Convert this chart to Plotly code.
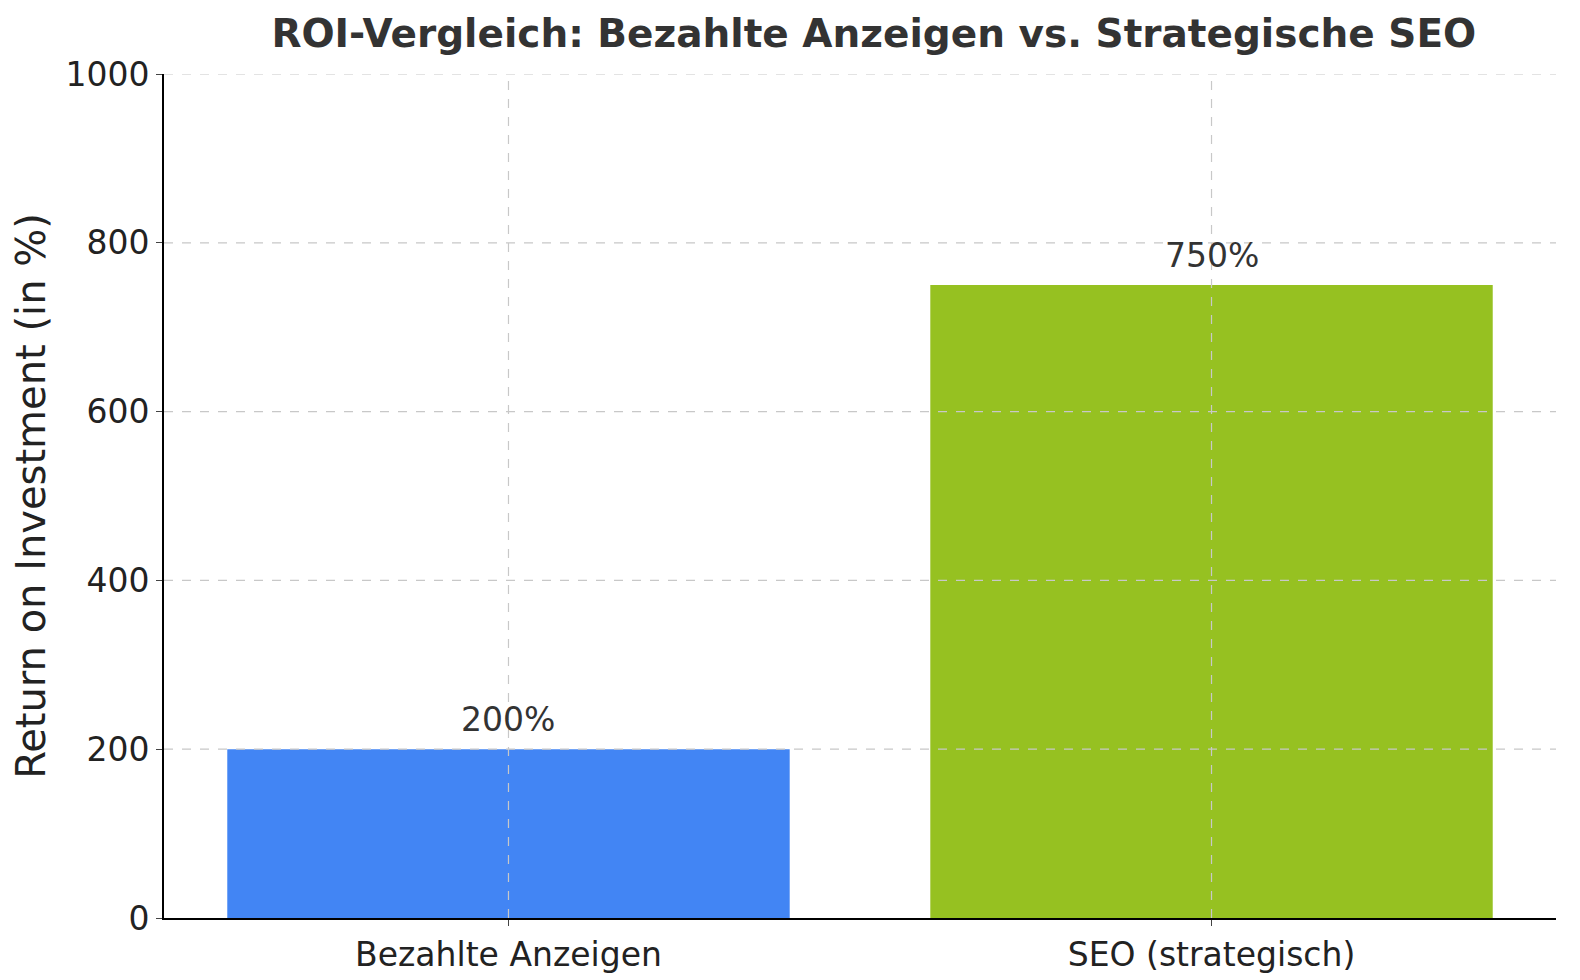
import plotly.graph_objects as go

categories = ["Bezahlte Anzeigen", "SEO (strategisch)"]
roi_values = [200, 750]
labels = ["200%", "750%"]
colors = ["#4285F4", "#96C121"]
y_ticks = [0, 200, 400, 600, 800, 1000]

fig = go.Figure(go.Bar(x=[0, 1], y=roi_values, marker_color=colors, width=0.8,
                       marker_line_width=0))
for i, (v, t) in enumerate(zip(roi_values, labels)):
    fig.add_annotation(x=i, y=v, text=t, showarrow=False, yanchor="bottom", yshift=8,
                       font=dict(size=33, color="#333333"))
grid = dict(color="#c8c8c8", width=1.2, dash="dash")
for yt in y_ticks[1:-1]:
    fig.add_shape(type="line", xref="paper", x0=0, x1=1, yref="y", y0=yt, y1=yt,
                  line=grid, layer="above")
for xi in range(len(categories)):
    fig.add_shape(type="line", xref="x", x0=xi, x1=xi, yref="paper", y0=0, y1=1,
                  line=grid, layer="above")
fig.add_shape(type="line", xref="paper", x0=0, x1=1, yref="y", y0=1000, y1=1000,
              line=grid, layer="above")
fig.update_layout(
    width=1580, height=980, plot_bgcolor="white", paper_bgcolor="white",
    font=dict(family="DejaVu Sans", size=33, color="#222222"),
    title=dict(text="<b>ROI-Vergleich: Bezahlte Anzeigen vs. Strategische SEO</b>",
               x=0.548, xanchor="center", y=0.988, yanchor="top",
               font=dict(size=39, color="#333333")),
    margin=dict(l=156, r=32, t=66, b=70),
    showlegend=False,
)
fig.update_xaxes(range=[-0.49, 1.49], tickvals=[0, 1], ticktext=categories,
                 showline=True, linecolor="black", linewidth=2, ticks="outside",
                 ticklen=6, showgrid=False)
fig.update_yaxes(range=[0, 1000], tickvals=y_ticks, title_text="Return on Investment (in %)",
                 title_standoff=18,
                 showline=True, linecolor="black", linewidth=2, ticks="outside",
                 ticklen=6, showgrid=False, zeroline=False)
fig.write_html("out.html")
